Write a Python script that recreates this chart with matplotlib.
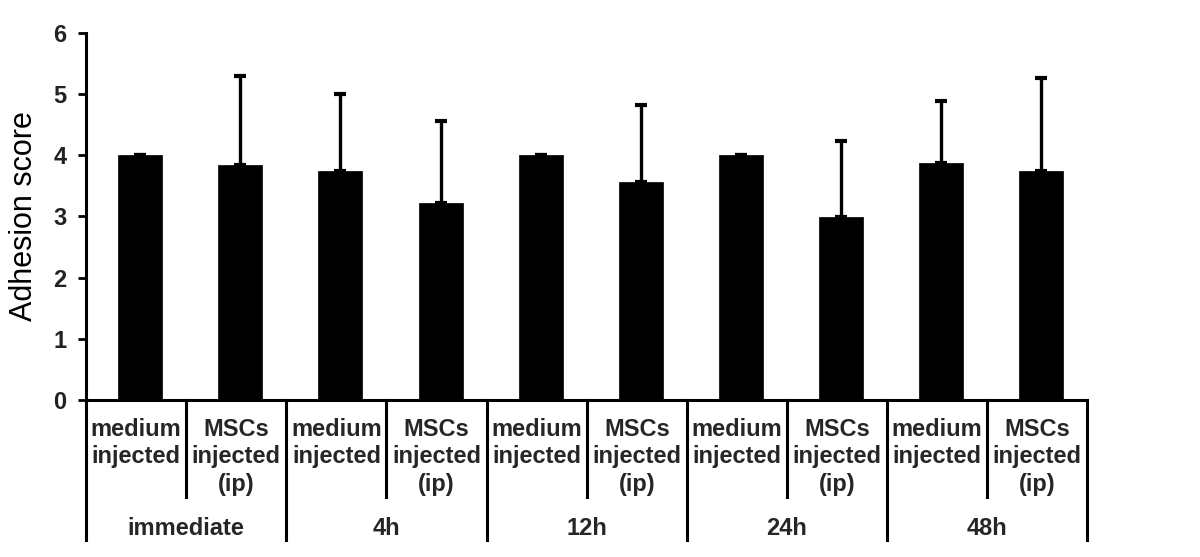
import matplotlib.pyplot as plt
import matplotlib.transforms as mtransforms
import numpy as np

plt.rcParams['font.family'] = ['Liberation Sans', 'DejaVu Sans']

# data
groups = ['immediate', '4h', '12h', '24h', '48h']
conditions = ['medium\ninjected', 'MSCs\ninjected\n(ip)']
means = [4.0, 3.84, 3.75, 3.22, 4.0, 3.57, 4.0, 2.99, 3.87, 3.75]
errors = [0.0, 1.45, 1.26, 1.34, 0.0, 1.25, 0.0, 1.24, 1.01, 1.51]

fig = plt.figure(figsize=(12, 5.57), dpi=100)
ax = fig.add_axes([0.0717, 0.2819, 0.9342 - 0.0717 - 0.028, 0.9408 - 0.2819])

x = np.arange(len(means)) + 0.04  # bars sit a little right of centre
ax.bar(x, means, width=0.44, color='black', edgecolor='black', linewidth=0.5)
ax.errorbar(x, means, yerr=[np.zeros(len(errors)), errors], fmt='none',
            ecolor='black', elinewidth=2.4, capsize=4, capthick=3)

ax.set_xlim(-0.5, len(means) - 0.5)
ax.set_ylim(0, 6)
ax.set_yticks(range(0, 7))
ax.set_yticklabels([str(v) for v in range(0, 7)], fontsize=17, fontweight='bold', color='#222222')
ax.tick_params(axis='y', direction='out', length=6, width=2, pad=8)
ax.set_xticks([])
for side in ['top', 'right']:
    ax.spines[side].set_visible(False)
for side in ['left', 'bottom']:
    ax.spines[side].set_linewidth(2.2)
ax.set_ylabel('Adhesion score', fontsize=22, labelpad=10)

# category table below the axis
trans = mtransforms.blended_transform_factory(ax.transData, ax.transAxes)
line_kw = dict(color='black', lw=2.2, transform=trans, clip_on=False)
for i in range(len(means) + 1):
    edge = i - 0.5
    bottom = -0.381 if i % 2 == 0 else -0.264
    ax.plot([edge, edge], [0, bottom], **line_kw)

for i in range(len(means)):
    ax.text(i, -0.048, conditions[i % 2], transform=trans, ha='center', va='top',
            fontsize=17, fontweight='bold', color='#262626', linespacing=1.25)

for g, name in enumerate(groups):
    ax.text(2 * g + 0.5, -0.35, name, transform=trans, ha='center', va='center',
            fontsize=17, fontweight='bold', color='#262626')

plt.savefig('out.png', dpi=100)
